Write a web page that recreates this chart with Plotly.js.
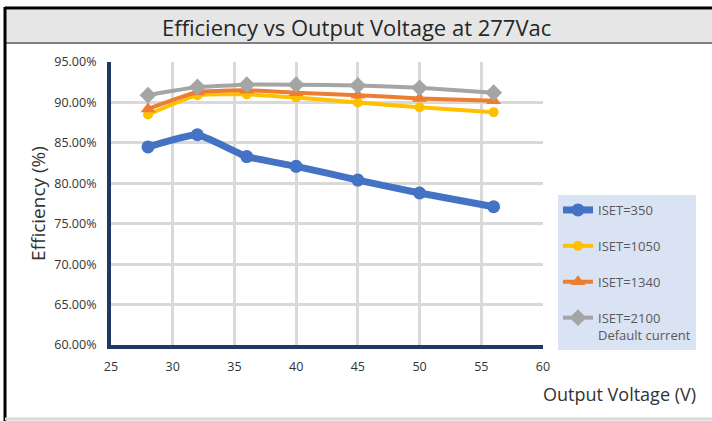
<!DOCTYPE html>
<html>
<head>
<meta charset="utf-8">
<script src="https://cdn.plot.ly/plotly-3.0.1.min.js"></script>
<style>html,body{margin:0;padding:0;background:#fff;}#chart{width:712px;height:421px;}</style>
</head>
<body>
<div id="chart"></div>
<script>
var voltage = [28, 32, 36, 40, 45, 50, 56];
var iset350 = [84.5, 86.0, 83.3, 82.1, 80.4, 78.8, 77.1];
var iset1050 = [88.5, 90.9, 91.0, 90.6, 90.0, 89.4, 88.8];
var iset1340 = [89.2, 91.3, 91.5, 91.2, 90.9, 90.5, 90.2];
var iset2100 = [90.9, 91.9, 92.2, 92.2, 92.1, 91.8, 91.2];
var seriesNames = ['ISET=350', 'ISET=1050', 'ISET=1340', 'ISET=2100<br>Default current'];
var xTicks = [25, 30, 35, 40, 45, 50, 55, 60];
var yTicks = [60, 65, 70, 75, 80, 85, 90, 95];
var yTickText = yTicks.map(function(v){ return v.toFixed(2) + '%'; });

var W = 712, H = 421, L = 111, R = 543, T = 62, B = 345;
function px(x){ return (x - L) / (R - L); }
function py(y){ return (B - y) / (B - T); }

var font = '"Open Sans", "Noto Sans", sans-serif';

var traces = [
  {x: voltage, y: iset350, name: seriesNames[0], mode: 'lines+markers', legendgroup: 'a',
   line: {color: '#4472c4', width: 7, shape: 'spline', smoothing: 0.4},
   marker: {symbol: 'circle', size: 13, color: '#4472c4'}},
  {x: voltage, y: iset1050, name: seriesNames[1], mode: 'lines+markers', legendgroup: 'b',
   line: {color: '#ffc000', width: 4, shape: 'spline', smoothing: 0.4},
   marker: {symbol: 'circle', size: 10, color: '#ffc000'}},
  {x: voltage, y: iset1340, name: seriesNames[2], mode: 'lines+markers', legendgroup: 'c',
   line: {color: '#ed7d31', width: 4, shape: 'spline', smoothing: 0.4},
   marker: {symbol: 'triangle-up', size: 13, color: '#ed7d31'}},
  {x: voltage, y: iset2100, name: seriesNames[3], mode: 'lines+markers', legendgroup: 'd',
   line: {color: '#a5a5a5', width: 4, shape: 'spline', smoothing: 0.4},
   marker: {symbol: 'diamond', size: 13, color: '#a5a5a5'}}
];

var layout = {
  width: W, height: H,
  margin: {l: L, r: W - R, t: T, b: H - B, pad: 0},
  paper_bgcolor: '#ffffff', plot_bgcolor: '#ffffff',
  font: {family: font, color: '#404040', size: 12},
  showlegend: true,
  legend: {
    x: px(558), y: py(195), xanchor: 'left', yanchor: 'top',
    bgcolor: '#dae3f3', borderwidth: 0,
    font: {family: font, size: 13, color: '#595959'},
    traceorder: 'grouped', tracegroupgap: 16, valign: 'top',
    itemwidth: 30
  },
  xaxis: {
    range: [25, 60], tickvals: xTicks, ticktext: xTicks.map(String),
    showgrid: true, gridcolor: '#d9d9d9', gridwidth: 3,
    showline: true, linecolor: '#203864', linewidth: 4,
    zeroline: false, ticks: '', ticklen: 0, ticklabelstandoff: 7,
    tickfont: {family: font, size: 12.5, color: '#333333'}
  },
  yaxis: {
    range: [60, 95], tickvals: yTicks, ticktext: yTickText,
    showgrid: true, gridcolor: '#d9d9d9', gridwidth: 3,
    showline: true, linecolor: '#203864', linewidth: 4,
    zeroline: false, ticks: '', ticklen: 0, ticklabelstandoff: 8,
    tickfont: {family: font, size: 12.5, color: '#333333'},
    title: {text: 'Efficiency (%)', font: {family: font, size: 19, color: '#333333'}, standoff: 5}
  },
  shapes: [
    {type: 'rect', xref: 'paper', yref: 'paper', x0: px(5), x1: px(712), y0: py(10), y1: py(43),
     fillcolor: '#e6e6e6', line: {width: 0}, layer: 'below'},
    {type: 'line', xref: 'paper', yref: 'paper', x0: px(5), x1: px(712), y0: py(8), y1: py(8),
     line: {color: '#000000', width: 3}},
    {type: 'line', xref: 'paper', yref: 'paper', x0: px(5), x1: px(712), y0: py(43), y1: py(43),
     line: {color: '#7f7f7f', width: 2}},
    {type: 'line', xref: 'paper', yref: 'paper', x0: px(5), x1: px(5), y0: py(7), y1: py(421),
     line: {color: '#000000', width: 3}},
    {type: 'line', xref: 'paper', yref: 'paper', x0: px(5), x1: px(712), y0: py(419), y1: py(419),
     line: {color: '#d9d9d9', width: 3}}
  ],
  annotations: [
    {text: 'Efficiency vs Output Voltage at 277Vac', xref: 'paper', yref: 'paper',
     x: px(356), y: py(27), xanchor: 'center', yanchor: 'middle', showarrow: false,
     font: {family: font, size: 22, color: '#262626'}},
    {text: 'Output Voltage (V)', xref: 'paper', yref: 'paper',
     x: px(698), y: py(394), xanchor: 'right', yanchor: 'middle', showarrow: false,
     font: {family: font, size: 18, color: '#333333'}}
  ]
};

Plotly.newPlot('chart', traces, layout, {displayModeBar: false, staticPlot: true});
</script>
</body>
</html>
